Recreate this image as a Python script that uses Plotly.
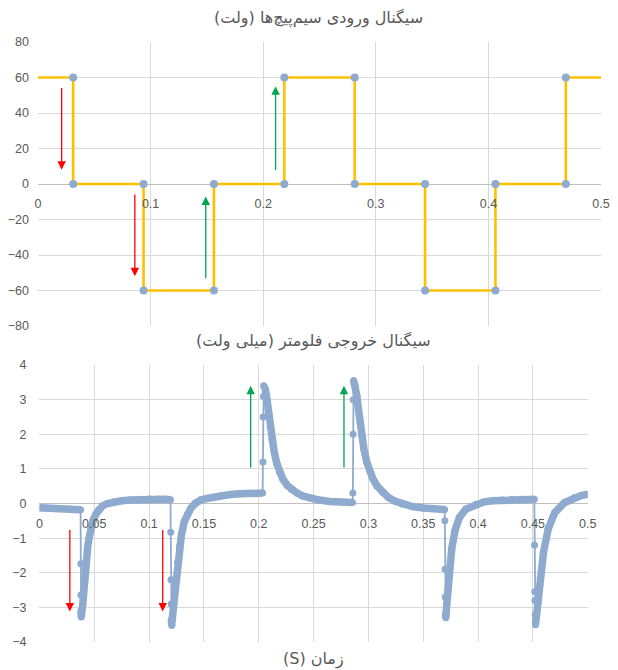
import plotly.graph_objects as go

# ---------------- data ----------------
# input coil signal (V): square steps
step_t = [0, 0.03125, 0.03125, 0.09375, 0.09375, 0.15625, 0.15625, 0.21875, 0.21875,
          0.28125, 0.28125, 0.34375, 0.34375, 0.40625, 0.40625, 0.46875, 0.46875, 0.5]
step_v = [60, 60, 0, 0, -60, -60, 0, 0, 60, 60, 0, 0, -60, -60, 0, 0, 60, 60]

# flowmeter output (mV)
flow_t = [0.000, 0.005, 0.010, 0.015, 0.020, 0.025, 0.030, 0.035, 0.0375,
          0.0377, 0.0378, 0.0379, 0.0381,
          0.0395, 0.041, 0.0425, 0.044, 0.0455, 0.047, 0.049, 0.0515, 0.054, 0.0575,
          0.062, 0.068, 0.075, 0.083, 0.092, 0.100, 0.108, 0.115, 0.1195,
          0.1197, 0.1199, 0.1201, 0.1203, 0.1206,
          0.1225, 0.1246, 0.126, 0.1276, 0.1295, 0.132, 0.135, 0.138, 0.142, 0.147,
          0.153, 0.159, 0.166, 0.174, 0.183, 0.192, 0.2035,
          0.2038, 0.2040, 0.2042, 0.2045,
          0.206, 0.2075, 0.209, 0.2105, 0.212, 0.214, 0.2165, 0.219, 0.222, 0.226, 0.230,
          0.235, 0.240, 0.247, 0.255, 0.265, 0.275, 0.2855,
          0.2858, 0.2860, 0.2862, 0.2865,
          0.288, 0.2895, 0.291, 0.2925, 0.294, 0.296, 0.2985, 0.301, 0.304, 0.308, 0.313,
          0.318, 0.324, 0.331, 0.340, 0.350, 0.360, 0.3695,
          0.3697, 0.3699, 0.3701, 0.3703, 0.3706,
          0.3715, 0.373, 0.376, 0.379, 0.383, 0.389, 0.398, 0.405, 0.413, 0.422, 0.431,
          0.440, 0.4513,
          0.4515, 0.4517, 0.4519, 0.4521, 0.4524,
          0.4545, 0.4567, 0.4597, 0.464, 0.470, 0.479, 0.488, 0.494, 0.500]
flow_v = [-0.12, -0.13, -0.14, -0.15, -0.15, -0.16, -0.17, -0.17, -0.18,
          -1.74, -2.64, -3.1, -3.28,
          -2.9, -2.2, -1.7, -1.25, -0.95, -0.7, -0.48, -0.3, -0.18, -0.07,
          0.0, 0.05, 0.08, 0.10, 0.12, 0.13, 0.13, 0.12, 0.11,
          -0.83, -2.2, -2.9, -3.35, -3.52,
          -2.9, -2.2, -1.7, -1.25, -0.9, -0.53, -0.3, -0.14, 0.0, 0.10,
          0.15, 0.19, 0.23, 0.26, 0.28, 0.29, 0.30,
          1.2, 2.5, 3.1, 3.4,
          3.3, 3.0, 2.6, 2.2, 1.85, 1.5, 1.15, 0.9, 0.7, 0.52, 0.40,
          0.30, 0.22, 0.15, 0.10, 0.06, 0.04, 0.03,
          0.3, 2.0, 3.0, 3.55,
          3.4, 3.1, 2.7, 2.3, 1.95, 1.55, 1.2, 0.95, 0.72, 0.50, 0.32,
          0.18, 0.07, -0.02, -0.09, -0.13, -0.15, -0.17,
          -0.5, -1.9, -2.7, -3.2, -3.3,
          -2.9, -2.16, -1.3, -0.78, -0.4, -0.16, -0.02, 0.04, 0.08, 0.10, 0.12,
          0.12, 0.12,
          -1.2, -2.55, -2.8, -3.2, -3.5,
          -2.9, -2.16, -1.4, -0.73, -0.26, 0.03, 0.17, 0.23, 0.27]

# arrows: x, start value, tip value, colour
top_arrow_x = [0.021, 0.086, 0.149, 0.211]
top_arrow_from = [55, -5, -54, 7]
top_arrow_to = [8, -52, -7, 55]
top_arrow_col = ["#FF0000", "#FF0000", "#00A651", "#00A651"]

bot_arrow_x = [0.0277, 0.1124, 0.1926, 0.2777]
bot_arrow_from = [-0.72, -0.72, 1.0, 1.0]
bot_arrow_to = [-3.12, -3.12, 3.4, 3.4]
bot_arrow_col = ["#FF0000", "#FF0000", "#00A651", "#00A651"]

top_xticks = [0, 0.1, 0.2, 0.3, 0.4, 0.5]
top_yticks = [-80, -60, -40, -20, 0, 20, 40, 60, 80]
bot_xticks = [0, 0.05, 0.1, 0.15, 0.2, 0.25, 0.3, 0.35, 0.4, 0.45, 0.5]
bot_yticks = [-4, -3, -2, -1, 0, 1, 2, 3, 4]

title_top = "سیگنال ورودی سیم‌پیچ‌ها (ولت)"
title_bot = "سیگنال خروجی فلومتر (میلی ولت)"
title_x = "زمان (S)"

# ---------------- figure ----------------
ORANGE = "#FFC000"
BLUEGRAY = "#8EABCF"
GRID = "#D9D9D9"
TXT = "#595959"

W, H = 618, 670
ml, mr, mt, mb = 38, 8, 42, 28
pw = W - ml - mr
ph = H - mt - mb

def py(pix):  # pixel row -> paper y
    return (H - mb - pix) / ph

def rtl(s):
    return "\u202B" + s + "\u202C"

fig = go.Figure()

fig.add_trace(go.Scatter(x=step_t, y=step_v, mode="lines",
                         line=dict(color=ORANGE, width=2.6),
                         xaxis="x", yaxis="y", hoverinfo="skip"))
fig.add_trace(go.Scatter(x=step_t[1:-1], y=step_v[1:-1], mode="markers",
                         marker=dict(color=BLUEGRAY, size=8),
                         xaxis="x", yaxis="y"))

# thick band (breaks across the fast jumps)
bx, byv = [], []
for i in range(len(flow_t)):
    if i > 0 and (flow_t[i] - flow_t[i - 1]) <= 0.0005 and abs(flow_v[i] - flow_v[i - 1]) > 0.2:
        bx.append(None); byv.append(None)
    bx.append(flow_t[i]); byv.append(flow_v[i])
fig.add_trace(go.Scatter(x=bx, y=byv, mode="lines",
                         line=dict(color=BLUEGRAY, width=7.5), connectgaps=False,
                         xaxis="x2", yaxis="y2", hoverinfo="skip"))
fig.add_trace(go.Scatter(x=flow_t, y=flow_v, mode="lines+markers",
                         line=dict(color=BLUEGRAY, width=1.8),
                         marker=dict(color=BLUEGRAY, size=7),
                         xaxis="x2", yaxis="y2"))

annotations = []
for x, a, b, c in zip(top_arrow_x, top_arrow_from, top_arrow_to, top_arrow_col):
    annotations.append(dict(x=x, y=b, ax=x, ay=a, xref="x", yref="y", axref="x", ayref="y",
                            showarrow=True, arrowhead=2, arrowsize=1.3, arrowwidth=1.3,
                            arrowcolor=c, text=""))
for x, a, b, c in zip(bot_arrow_x, bot_arrow_from, bot_arrow_to, bot_arrow_col):
    annotations.append(dict(x=x, y=b, ax=x, ay=a, xref="x2", yref="y2", axref="x2", ayref="y2",
                            showarrow=True, arrowhead=2, arrowsize=1.3, arrowwidth=1.3,
                            arrowcolor=c, text=""))

tfont = dict(family="DejaVu Sans", size=16, color=TXT)
annotations.append(dict(text=rtl(title_top), xref="paper", yref="paper",
                        x=(323 - ml) / pw, y=py(18), showarrow=False, font=tfont,
                        xanchor="center", yanchor="middle"))
annotations.append(dict(text=rtl(title_bot), xref="paper", yref="paper",
                        x=(318 - ml) / pw, y=py(341), showarrow=False, font=tfont,
                        xanchor="center", yanchor="middle"))
annotations.append(dict(text=rtl(title_x), xref="paper", yref="paper",
                        x=(318 - ml) / pw, y=py(659), showarrow=False, font=tfont,
                        xanchor="center", yanchor="middle"))

tick_font = dict(family="Liberation Sans", size=12.5, color=TXT)

fig.update_layout(
    width=W, height=H, margin=dict(l=ml, r=mr, t=mt, b=mb),
    paper_bgcolor="white", plot_bgcolor="white", showlegend=False,
    annotations=annotations,
    xaxis=dict(domain=[0, 1], range=[0, 0.5], tickvals=top_xticks,
               ticktext=[f"{v:g}" for v in top_xticks],
               showgrid=True, gridcolor=GRID, gridwidth=1, zeroline=False, showline=False,
               anchor="free", position=py(184), ticks="", ticklabelstandoff=10,
               tickfont=tick_font),
    yaxis=dict(domain=[py(326), py(42)], range=[-80, 80], tickvals=top_yticks,
               showgrid=True, gridcolor=GRID, zeroline=True, zerolinecolor="#BFBFBF",
               zerolinewidth=1, showline=False, ticks="", tickfont=tick_font,
               ticklabelstandoff=8, anchor="x"),
    xaxis2=dict(domain=[(39.5 - ml) / pw, (596.5 - ml) / pw], range=[0, 0.5],
                tickvals=bot_xticks, ticktext=[f"{v:g}" for v in bot_xticks],
                showgrid=True, gridcolor=GRID, zeroline=False, showline=False,
                anchor="free", position=py(504), ticks="", ticklabelstandoff=10,
                tickfont=tick_font),
    yaxis2=dict(domain=[py(642), py(365)], range=[-4, 4], tickvals=bot_yticks,
                showgrid=True, gridcolor=GRID, zeroline=True, zerolinecolor="#BFBFBF",
                zerolinewidth=1, showline=False, ticks="", tickfont=tick_font,
                ticklabelstandoff=12, anchor="x2"),
)

fig.write_html("out.html")
